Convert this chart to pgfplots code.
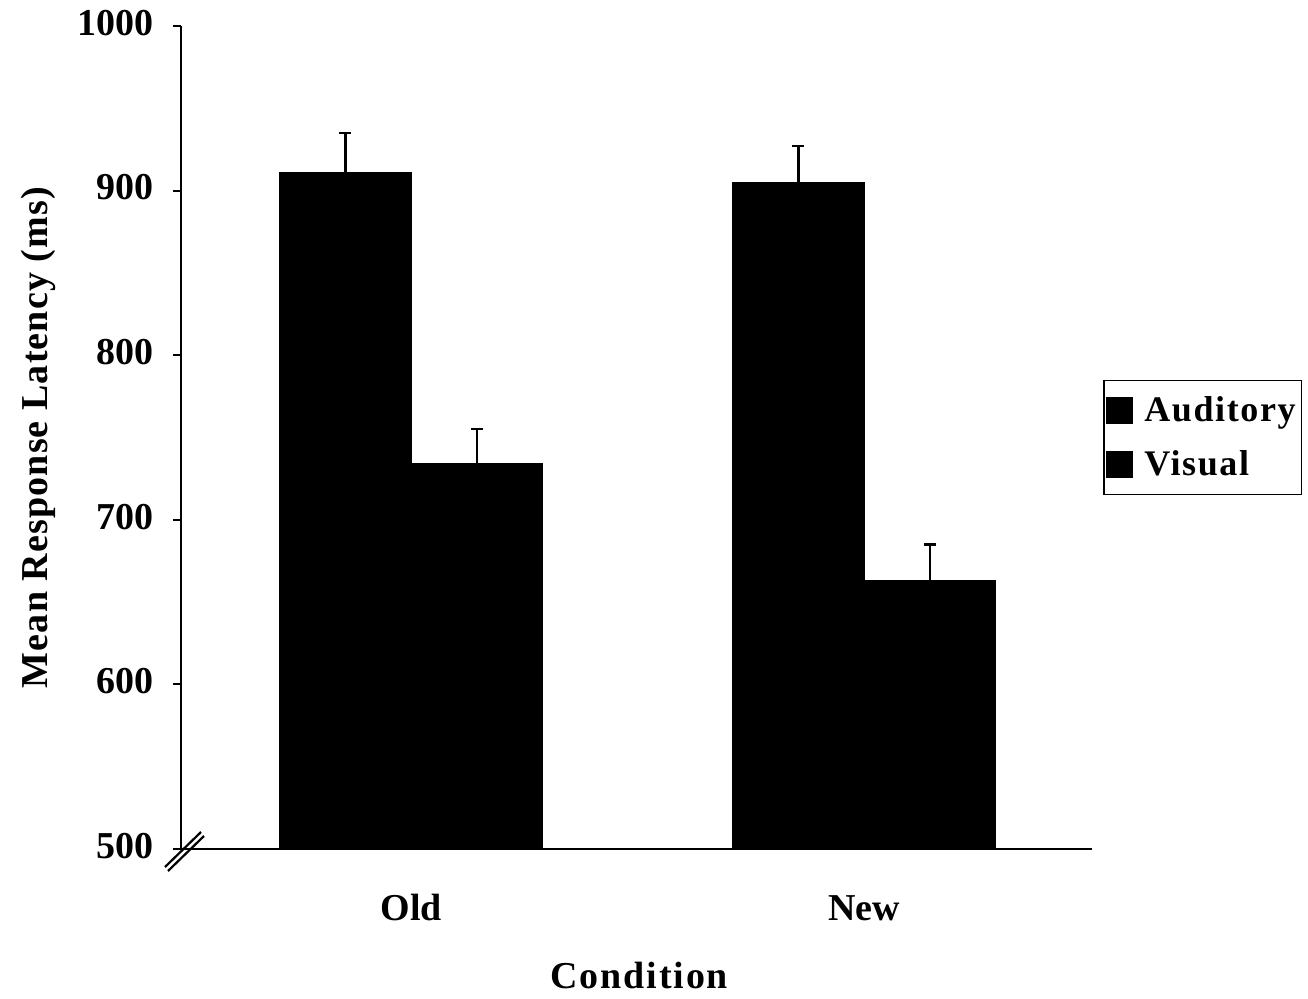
\documentclass[border=0pt]{standalone}
\usepackage{fontspec}
\setmainfont{Liberation Serif}
\usepackage{pgfplots}
\pgfplotsset{compat=1.18}
\begin{document}
\begin{tikzpicture}
\path[use as bounding box] (-90.5pt,-74.5pt) rectangle (563.5pt,424.5pt);
\begin{axis}[
  at={(0,0)}, anchor=south west,
  scale only axis, width=455.5pt, height=411.5pt,
  xmin=-0.508, xmax=1.503,
  ymin=500, ymax=1000,
  ytick={500,600,700,800,900,1000},
  xtick={0,1}, xticklabels={Old,New},
  axis x line*=bottom, axis y line*=left,
  axis line style={line width=1pt, -},
  tick align=outside, major tick length=4pt,
  ytick style={line width=1pt, black},
  xtick style={draw=none},
  /pgf/number format/assume math mode=true,
  /pgf/number format/1000 sep={},
  tick label style={font=\bfseries\fontsize{19}{23}\selectfont},
  typeset ticklabels with strut,
  xticklabel style={yshift=-12pt},
  yticklabel style={xshift=-6pt},
  xlabel={Condition}, ylabel={Mean Response Latency (ms)},
  every axis x label/.style={at={(axis description cs:0.503,0)}, yshift=-63pt, anchor=center,
    font=\bfseries\fontsize{19}{23}\selectfont\addfontfeature{LetterSpace=5}},
  every axis y label/.style={at={(axis description cs:0,0.5)}, xshift=-71.5pt, rotate=90, anchor=center,
    font=\bfseries\fontsize{19}{23}\selectfont\addfontfeature{LetterSpace=3}},
  ybar, bar width=0.29,
  legend style={draw=black, line width=0.8pt, at={(1.012,0.57)}, anchor=north west,
    font=\bfseries\fontsize{18}{22}\selectfont\addfontfeature{LetterSpace=4.5},
    inner xsep=1pt, inner ysep=6pt, row sep=9pt},
  legend cell align=left,
  legend image code/.code={\fill[black] (2pt,-6.5pt) rectangle (15pt,6.5pt); \path (18.5pt,0pt);},
]
\addplot[fill=black, draw=black, bar shift=-0.145,
  error bars/.cd, y dir=plus, y explicit,
  error bar style={line width=1.2pt, black},
  error mark options={rotate=90, mark size=3pt, line width=1.2pt, black}]
  coordinates {(0,911) +- (0,24) (1,905) +- (0,22)};
\addlegendentry{Auditory}
\addplot[fill=black, draw=black, bar shift=0.145,
  error bars/.cd, y dir=plus, y explicit,
  error bar style={line width=1.2pt, black},
  error mark options={rotate=90, mark size=3pt, line width=1.2pt, black}]
  coordinates {(0,734) +- (0,21) (1,663) +- (0,22)};
\addlegendentry{Visual}
\end{axis}
\draw[line width=1.1pt] (-8pt,-9pt) -- (10pt,8.5pt);
\draw[line width=1.1pt] (-6.5pt,-11pt) -- (11.5pt,6.5pt);
\end{tikzpicture}
\end{document}
